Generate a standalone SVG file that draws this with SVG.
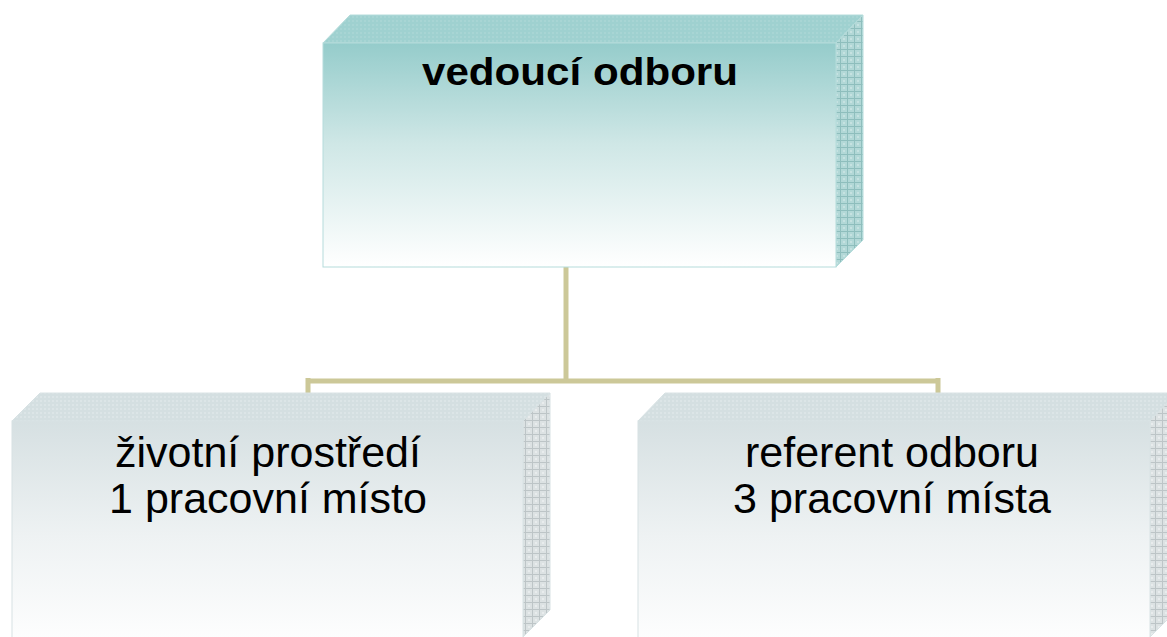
<svg xmlns="http://www.w3.org/2000/svg" width="1167" height="637" viewBox="0 0 1167 637">
<defs>
<linearGradient id="gTop" x1="0" y1="0" x2="0" y2="1">
<stop offset="0" stop-color="#95CCCB"/>
<stop offset="0.45" stop-color="#CFE7E6"/>
<stop offset="1" stop-color="#FFFFFF"/>
</linearGradient>
<linearGradient id="gBot" x1="0" y1="0" x2="0" y2="1">
<stop offset="0" stop-color="#D6E0E2"/>
<stop offset="0.5" stop-color="#EEF2F3"/>
<stop offset="1" stop-color="#FFFFFF"/>
</linearGradient>
<pattern id="pTealTop" width="4" height="4" patternUnits="userSpaceOnUse">
<rect width="4" height="4" fill="#9FD1D0"/>
<rect width="2" height="2" fill="#A8D5D4"/>
</pattern>
<pattern id="pTealSide" width="7" height="7" patternUnits="userSpaceOnUse">
<rect width="7" height="7" fill="#B2D8D7"/>
<path d="M0 0.5H7M0.5 0V7" stroke="#8EBEBD" stroke-width="1"/>
<rect x="3" y="3" width="2" height="2" fill="#C6E2E1"/>
</pattern>
<pattern id="pGrayTop" width="4" height="4" patternUnits="userSpaceOnUse">
<rect width="4" height="4" fill="#D4DFE1"/>
<rect width="2" height="2" fill="#DCE5E7"/>
</pattern>
<pattern id="pGraySide" width="7" height="7" patternUnits="userSpaceOnUse">
<rect width="7" height="7" fill="#DCE2E3"/>
<path d="M0 0.5H7M0.5 0V7" stroke="#BDC5C7" stroke-width="1"/>
<rect x="3" y="3" width="2" height="2" fill="#E8ECED"/>
</pattern>
</defs>
<style>
.conn{fill:none;stroke:#CCC898;stroke-width:5}
.tface{stroke:#B5DCDB;stroke-width:1}
.gface{stroke:#D8E2E4;stroke-width:1}
.lbl{font-family:"Liberation Sans",Arial,sans-serif;fill:#000;text-anchor:middle}
.b{font-weight:bold;font-size:39px}
.r{font-size:43px}
</style>
<g id="connectors">
<path class="conn" d="M566 267V381"/>
<path class="conn" d="M308 381H938"/>
<path class="conn" d="M308 378V394M938 378V394"/>
</g>
<g id="node-vedouci">
<polygon class="tface" points="323,43 350,15 863,15 836,43" fill="url(#pTealTop)"/>
<polygon class="tface" points="836,43 863,15 863,240 836,267" fill="url(#pTealSide)"/>
<rect class="tface" x="323" y="43" width="513" height="224" fill="url(#gTop)"/>
<text class="lbl b" x="580" y="85" textLength="316" lengthAdjust="spacingAndGlyphs">vedoucí odboru</text>
</g>
<g id="node-zivotni">
<polygon class="gface" points="12,421 40,393 550,393 523,421" fill="url(#pGrayTop)"/>
<polygon class="gface" points="523,421 550,393 550,610 523,637" fill="url(#pGraySide)"/>
<rect class="gface" x="12" y="421" width="511" height="230" fill="url(#gBot)"/>
<text class="lbl r" x="268" y="467">životní prostředí</text>
<text class="lbl r" x="268" y="513">1 pracovní místo</text>
</g>
<g id="node-referent">
<polygon class="gface" points="638,421 665,393 1177,393 1150,421" fill="url(#pGrayTop)"/>
<polygon class="gface" points="1150,421 1177,393 1177,610 1150,637" fill="url(#pGraySide)"/>
<rect class="gface" x="638" y="421" width="512" height="230" fill="url(#gBot)"/>
<text class="lbl r" x="892" y="467">referent odboru</text>
<text class="lbl r" x="892" y="513">3 pracovní místa</text>
</g>
</svg>
